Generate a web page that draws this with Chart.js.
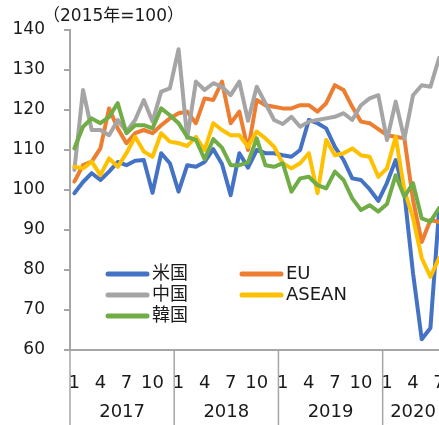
<!DOCTYPE html>
<html>
<head>
<meta charset="utf-8">
<script src="https://cdn.jsdelivr.net/npm/chart.js@4.4.1/dist/chart.umd.min.js"></script>
<style>
  html, body { margin: 0; padding: 0; background: #fff; overflow: hidden; }
  #wrap { width: 460px; height: 425px; }
</style>
</head>
<body>
<div id="wrap"><canvas id="chart" width="460" height="425"></canvas></div>
<script>
// 年と月（2017年1月〜2020年7月）
var years = ['2017', '2018', '2019', '2020'];
var monthLabels = [
  '1','2','3','4','5','6','7','8','9','10','11','12',
  '1','2','3','4','5','6','7','8','9','10','11','12',
  '1','2','3','4','5','6','7','8','9','10','11','12',
  '1','2','3','4','5','6','7'
];
var shownMonths = ['1', '4', '7', '10'];

// 各国・地域の指数（2015年=100）
var usData = [
  99.2, 102, 104.2, 102.5, 104.6, 107, 106.2, 107.3, 107.5, 99.3, 109.2, 106.7,
  99.6, 106.2, 105.8, 107, 110.2, 106.5, 98.7, 109.2, 105.6, 110, 109.2, 109.2,
  108.7, 108.3, 110, 117.5, 116.7, 115.4, 110.8, 107.5, 102.9, 102.5, 100.2, 97.3,
  101.8, 107.5, 99.2, 79.2, 62.7, 65.5, 95
];
var euData = [
  102.1, 106.2, 107.1, 110.4, 120.4, 115.4, 111.7, 114.2, 115, 114.2, 116.2, 117.9,
  119.2, 119.6, 116.7, 122.9, 122.5, 127.1, 116.7, 119.6, 110, 122.5, 121.2, 120.8,
  120.4, 120.4, 121.2, 121.2, 119.6, 121.7, 126.2, 125, 120.8, 117.1, 116.7, 115.2,
  113.7, 113.3, 112.9, 97.5, 87, 92.5, 92
];
var chinaData = [
  105, 125, 115, 115, 113.7, 117.5, 114.6, 117.5, 122.5, 117.1, 124.6, 125.4,
  135.2, 113, 127.1, 125, 126.7, 125.8, 123.7, 127.1, 117.3, 125.8, 121.7, 117.5,
  116.5, 118.3, 115.8, 117.1, 117.5, 117.9, 118.3, 119.2, 117.5, 121.2, 122.9, 123.7,
  112.5, 122.1, 112.8, 123.7, 126.2, 125.8, 133
];
var aseanData = [
  105.8, 105.4, 107.1, 103.7, 107.9, 105.8, 109.2, 113.3, 109.6, 108.3, 114.2, 112.1,
  111.7, 111, 113.3, 110, 116.7, 115, 113.7, 113.7, 110.8, 114.6, 112.9, 110.8,
  106.7, 105.4, 106.7, 109.2, 99.2, 112.5, 108.7, 109.2, 110.4, 108.7, 108.3, 103.3,
  105.4, 113.3, 100, 93, 83, 78.3, 83
];
var koreaData = [
  110.4, 115.8, 117.9, 116.7, 118.3, 121.7, 114.2, 116.2, 116.2, 115.4, 120.4, 118.7,
  116.7, 113.3, 112.5, 107.7, 112.7, 110.6, 106.2, 106.2, 106.9, 112.9, 106.2, 105.8,
  106.7, 99.6, 102.9, 103.3, 101.2, 100.4, 104.6, 102.5, 97.9, 95, 96.2, 94.6,
  96.5, 103.7, 98.3, 101.7, 92.9, 92.1, 95.5
];

var FONT = '"DejaVu Sans", "Noto Sans CJK JP", sans-serif';
var AXIS_GRAY = '#a6a6a6';
var TEXT = '#1a1a1a';

// タイトル・凡例・年ラベルを描くプラグイン
var decorPlugin = {
  id: 'decor',
  afterDatasetsDraw: function(chart) {
    var ctx = chart.ctx;
    var x = chart.scales.x;
    var area = chart.chartArea;
    ctx.save();

    // タイトル
    ctx.fillStyle = TEXT;
    ctx.font = '17px ' + FONT;
    ctx.textAlign = 'left';
    ctx.textBaseline = 'middle';
    ctx.fillText('（2015年=100）', 43, 17);

    // 凡例（2列）
    ctx.font = '18px ' + FONT;
    var cols = [106, 240];
    var rows = [274, 295, 316];
    chart.data.datasets.forEach(function(ds, i) {
      var lx = cols[i % 2];
      var ly = rows[Math.floor(i / 2)];
      ctx.strokeStyle = ds.borderColor;
      ctx.lineWidth = 5;
      ctx.lineCap = 'round';
      ctx.beginPath();
      ctx.moveTo(lx + 2, ly);
      ctx.lineTo(lx + 41, ly);
      ctx.stroke();
      ctx.fillStyle = TEXT;
      ctx.fillText(ds.label, lx + 46, ly);
    });

    // 年の区切り線と年ラベル
    ctx.strokeStyle = AXIS_GRAY;
    ctx.lineWidth = 1.5;
    ctx.lineCap = 'butt';
    ctx.textAlign = 'center';
    for (var y = 0; y < years.length; y++) {
      var first = y * 12;
      var last = Math.min(first + 11, monthLabels.length - 1);
      var half = (x.getPixelForValue(1) - x.getPixelForValue(0)) / 2;
      var left = x.getPixelForValue(first) - half;
      var right = x.getPixelForValue(last) + half;
      ctx.beginPath();
      ctx.moveTo(left, area.bottom);
      ctx.lineTo(left, chart.height);
      ctx.stroke();
      ctx.fillText(years[y], (left + right) / 2, 412);
    }
    ctx.restore();
  }
};

var ctx = document.getElementById('chart').getContext('2d');
new Chart(ctx, {
  type: 'line',
  data: {
    labels: monthLabels,
    datasets: [
      { label: '米国', data: usData, borderColor: '#4472C4', order: 5 },
      { label: 'EU', data: euData, borderColor: '#ED7D31', order: 4 },
      { label: '中国', data: chinaData, borderColor: '#A5A5A5', order: 3 },
      { label: 'ASEAN', data: aseanData, borderColor: '#FFC000', order: 2 },
      { label: '韓国', data: koreaData, borderColor: '#70AD47', order: 1 }
    ]
  },
  options: {
    responsive: false,
    animation: false,
    layout: { padding: { top: 30, right: 15, left: 0, bottom: 0 } },
    elements: {
      line: { borderWidth: 4, tension: 0, borderJoinStyle: 'round', borderCapStyle: 'round', fill: false },
      point: { radius: 0, hoverRadius: 0 }
    },
    plugins: {
      legend: { display: false },
      tooltip: { enabled: false },
      title: { display: false }
    },
    scales: {
      x: {
        type: 'category',
        offset: true,
        afterFit: function(scale) { scale.height = 75; },
        grid: { display: false },
        border: { color: AXIS_GRAY, width: 2 },
        ticks: {
          autoSkip: false,
          maxRotation: 0,
          minRotation: 0,
          padding: 15,
          color: TEXT,
          font: { family: FONT, size: 18 },
          callback: function(val, idx) {
            var m = monthLabels[idx];
            return shownMonths.indexOf(m) >= 0 ? m : '';
          }
        }
      },
      y: {
        min: 60,
        max: 140,
        afterFit: function(scale) { scale.width = 70; },
        grid: { drawOnChartArea: false, drawTicks: true, tickLength: 6, color: AXIS_GRAY, lineWidth: 2 },
        border: { color: AXIS_GRAY, width: 2 },
        ticks: {
          stepSize: 10,
          padding: 19,
          color: TEXT,
          font: { family: FONT, size: 17 }
        }
      }
    }
  },
  plugins: [decorPlugin]
});
</script>
</body>
</html>
